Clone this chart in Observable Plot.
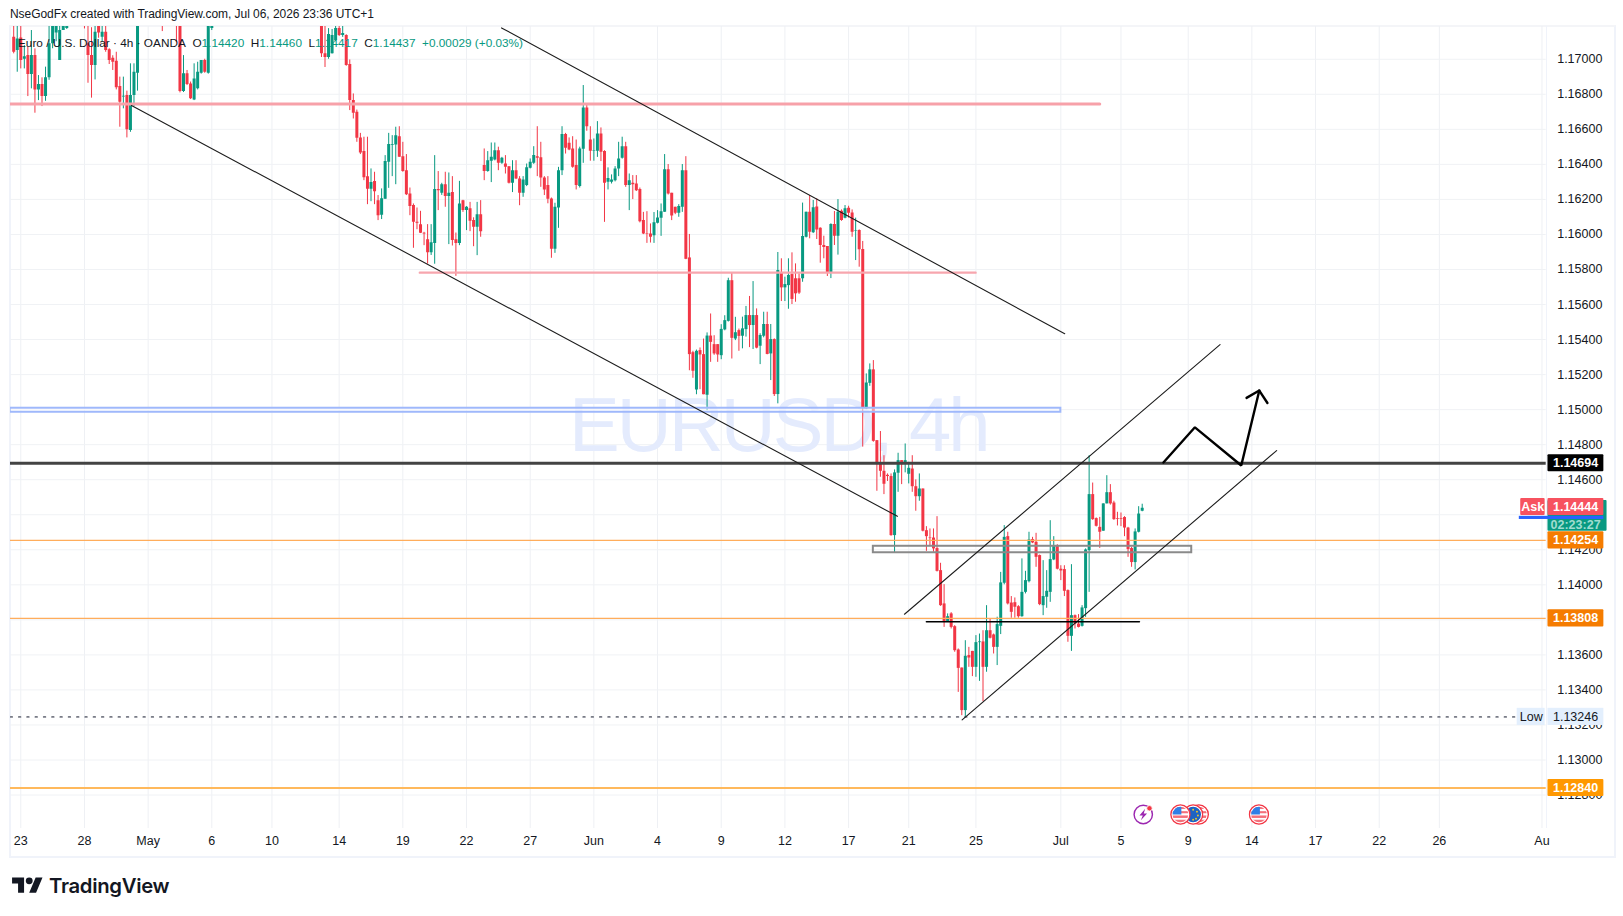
<!DOCTYPE html>
<html><head><meta charset="utf-8">
<script src="https://cdn.jsdelivr.net/npm/d3@7"></script>
<script src="https://cdn.jsdelivr.net/npm/@observablehq/plot@0.6"></script>
<style>
html,body{margin:0;padding:0;background:#fff;overflow:hidden;width:1623px;height:916px;position:relative}
#pane{position:absolute;left:9px;top:25px;width:1603px;height:829px;border:2px solid #f0f3fa;border-top-color:#f4f5f8}
#sep{position:absolute;left:1546px;top:26px;width:1px;height:802px;background:#f0f3fa}
#chart{position:absolute;left:0;top:26px}
#chart svg{display:block;background:transparent;max-width:none}
#head{position:absolute;left:10px;top:7px;font:12px "Liberation Sans",sans-serif;color:#131722;white-space:nowrap;letter-spacing:-.05px}
#legend{position:absolute;left:18px;top:36px;font:11.8px "Liberation Sans",sans-serif;color:#131722;white-space:nowrap}
#legend b{font-weight:400;color:#089981}
#logo{position:absolute;left:12px;top:873px;display:flex;align-items:center;gap:6px;font:600 20.3px Inter,sans-serif;color:#131722;letter-spacing:-.3px}
</style></head><body>
<div id="pane"></div><div id="sep"></div>
<div id="chart"></div>
<div id="head">NseGodFx created with TradingView.com, Jul 06, 2026 23:36 UTC+1</div>
<div id="legend">Euro / U.S. Dollar · 4h · OANDA&nbsp; O<b>1.14420</b>&nbsp; H<b>1.14460</b>&nbsp; L<b>1.14417</b>&nbsp; C<b>1.14437</b>&nbsp; <b>+0.00029 (+0.03%)</b></div>
<div id="logo"><svg width="31" height="24" viewBox="0 0 36 28"><path fill="#131722" d="M14 22H7V11H0V4h14v18ZM28 22h-8l7.5-18h8L28 22Z"/><circle fill="#131722" cx="20" cy="8" r="4"/></svg><span>TradingView</span></div>
<script>
const _ = null;
// All candle values are in points (0.00001) above priceBase. Empty cells are bars above the visible range.
const priceBase = 1.1;
const candleDirs =
 "RGRGRGRGRG"+"GGGGGG...."+"RRRGRGRRRR"+"RGRGGG...."+"..R...RRGR"+"RGGGRGG..."+".........."+".........."+
 ".......RRG"+"GGRGRRRRRR"+"RGRRGGGGGR"+"RRRRRRRRGG"+"RGRGRRGRGR"+"RGRRGGGRGR"+"RGRRGGGGRR"+"RRRGGGRRRR"+
 "GGRRGGRRGG"+"GGGRGRRRRR"+"RGGGGRRRGG"+"RRRGRRGRRR"+"GGGRGRGGRG"+"RGGRGRGRGG"+"RRRGGRGRRR"+"RGRGRGRRGR"+
 "RGGRRRRRRG"+"GRGGRRGRRR"+"RRRRGRRRRG"+"RRGGRGRRGG"+"GRRRRGGGRR"+"RGGGGRRRRG"+"RRGGGRRRGG"+"RRRRRRRGGG";
const bodyTop = [
7126,7116,7122,7015,7021,7021,7021,6856,6856,6894,
7088,7200,7200,7164,7220,7230,_,_,_,_,
7240,7088,7021,7154,7200,7154,7154,7054,7006,6989,
6844,6789,6793,6793,6926,7200,_,_,_,_,
_,_,7240,_,_,_,7240,7200,6917,6917,
6859,6888,6926,6993,6993,7200,7240,_,_,_,
_,_,_,_,_,_,_,_,_,_,
_,_,_,_,_,_,_,_,_,_,
_,_,_,_,_,_,_,7200,7032,7141,
7135,7175,7175,7147,7135,6970,6764,6697,6551,6473,
6330,6296,6302,6193,6204,6416,6513,6513,6564,6558,
6444,6364,6231,6165,6069,6056,6007,5970,5953,6256,
6256,6284,6284,6235,6239,5970,6174,6193,6155,6147,
6079,6113,6113,6393,6421,6440,6478,6478,6435,6402,
6387,6364,6364,6317,6311,6380,6412,6450,6444,6438,
6322,6279,6203,6155,6364,6570,6570,6520,6488,6393,
6488,6722,6722,6539,6478,6574,6574,6473,6319,6311,
6374,6431,6501,6501,6307,6292,6288,6256,6079,6003,
6003,6067,6094,6130,6370,6370,6235,6155,6159,6364,
6364,5866,5325,5333,5337,5314,5420,5420,5371,5371,
5458,5508,5736,5736,5439,5451,5461,5537,5537,5537,
5537,5423,5486,5486,5400,5400,5794,5783,5714,5766,
5771,5747,5747,5988,6127,6127,6152,6156,6036,5937,
5931,6057,6057,6127,6133,6146,6150,6123,6022,6022,
5914,5152,5227,5227,4823,4694,4648,4625,4618,4639,
4709,4709,4709,4665,4661,4560,4547,4547,4309,4267,
4267,4207,4081,3891,3818,3834,3761,3628,3525,3592,
3596,3620,3670,3674,3674,3738,3738,3714,3773,4011,
4271,4275,3896,3898,3875,3957,4024,4256,4258,4243,
4167,3933,3963,4144,4218,4222,4089,4087,3967,3824,
3824,3776,3868,4199,4515,4515,4378,4328,4462,4526,
4526,4467,4378,4378,4384,4324,4207,4302,4404,4437];
const bodyBottom = [
7040,7050,6993,7000,6913,6913,6825,6825,6787,6787,
6894,7088,7150,6993,7164,7175,_,_,_,_,
7200,7021,6964,6964,7150,7126,7050,6993,6983,6837,
6755,6785,6597,6593,6793,6920,_,_,_,_,
_,_,7200,_,_,_,7200,6816,6816,6856,
6774,6768,6831,6920,6926,6920,7175,_,_,_,
_,_,_,_,_,_,_,_,_,_,
_,_,_,_,_,_,_,_,_,_,
_,_,_,_,_,_,_,7032,7010,7010,
7032,7107,7135,7135,6964,6764,6692,6549,6465,6324,
6258,6258,6244,6107,6109,6201,6412,6509,6511,6440,
6359,6227,6159,6069,6064,6007,6003,5896,5896,5949,
6250,6235,6216,6216,5965,5949,5949,6136,6136,6075,
6041,6041,6016,6359,6360,6418,6425,6406,6406,6383,
6292,6292,6317,6235,6235,6279,6378,6406,6435,6322,
6254,6201,5915,5915,6151,6364,6492,6482,6383,6279,
6273,6486,6615,6475,6475,6475,6469,6292,6298,6298,
6307,6374,6435,6279,6279,6284,6250,6073,6003,5999,
5984,5993,6064,6092,6126,6231,6105,6121,6121,6155,
5858,5314,5219,5112,5312,5085,5082,5384,5318,5312,
5308,5455,5504,5407,5403,5418,5419,5457,5480,5480,
5351,5362,5419,5315,5318,5086,5086,5695,5695,5708,
5629,5661,5665,5747,5984,6013,6009,6026,5937,5925,
5783,5783,5990,5990,6080,6093,6121,6013,6019,5912,
5012,5004,5150,4819,4686,4648,4574,4618,4281,4281,
4637,4686,4697,4631,4560,4503,4503,4306,4275,4264,
4205,4077,3881,3790,3790,3757,3624,3523,3282,3282,
3582,3529,3529,3670,3529,3529,3695,3643,3643,3763,
4009,3891,3843,3872,3818,3818,3957,4018,4239,4157,
3887,3881,3929,3957,4142,4089,4079,3963,3706,3706,
3776,3757,3763,3864,4195,4372,4334,4300,4306,4462,
4462,4372,4374,4374,4324,4201,4127,4127,4300,4420];
const highs = [
7190,7190,7190,7078,7069,7164,7059,6907,6894,6955,
7200,7220,7230,7220,7240,7240,_,_,_,_,
7250,7220,7180,7190,7230,7200,7190,7060,7020,7040,
6898,6898,6818,6974,6974,7230,_,_,_,_,
_,_,7250,_,_,_,7250,7240,7021,6936,
6870,6974,6983,6993,7000,7240,7250,_,_,_,
_,_,_,_,_,_,_,_,_,_,
_,_,_,_,_,_,_,_,_,_,
_,_,_,_,_,_,_,7230,7200,7175,
7170,7200,7190,7190,7140,6996,6802,6710,6577,6555,
6555,6374,6355,6222,6260,6450,6577,6564,6612,6615,
6526,6456,6265,6174,6151,6132,6012,6056,6056,6450,
6359,6292,6355,6351,6330,6008,6303,6195,6159,6183,
6095,6183,6193,6488,6473,6522,6522,6498,6440,6450,
6387,6421,6421,6330,6330,6402,6431,6501,6615,6526,
6330,6330,6208,6178,6383,6615,6577,6551,6558,6539,
6498,6850,6741,6615,6545,6644,6608,6478,6380,6340,
6387,6526,6555,6526,6345,6336,6336,6265,6126,6130,
6060,6125,6136,6174,6456,6399,6235,6155,6170,6399,
6444,6000,5333,5340,5352,5403,5438,5546,5422,5371,
5485,5536,5750,5780,5527,5460,5528,5589,5646,5731,
5575,5433,5556,5556,5486,5404,5897,5861,5756,5861,
5895,5832,5775,6179,6127,6222,6194,6203,6038,5990,
5931,6061,6131,6199,6140,6165,6161,6140,6093,6026,
5960,5204,5261,5280,4823,4875,4737,4633,4633,4656,
4751,4709,4804,4699,4737,4599,4633,4547,4332,4319,
4319,4389,4123,4001,3834,3841,3767,3634,3525,3681,
3643,3620,3710,3719,3738,3881,3805,3719,3815,4071,
4338,4300,3933,3925,3881,4148,4077,4300,4271,4294,
4170,4138,4081,4366,4275,4229,4109,4109,3971,4115,
3828,3830,3881,4205,4737,4581,4382,4385,4462,4623,
4572,4477,4414,4410,4389,4328,4214,4319,4446,4460];
const lows = [
7031,6926,6945,6945,6787,6831,6692,6764,6730,6760,
6880,7060,7100,6993,7164,7170,_,_,_,_,
7173,6863,6778,6882,7120,7100,7040,6970,6936,6825,
6612,6717,6551,6583,6730,6818,_,_,_,_,
_,_,7158,_,_,_,7095,6808,6810,6850,
6770,6764,6825,6915,6920,6915,7164,_,_,_,
_,_,_,_,_,_,_,_,_,_,
_,_,_,_,_,_,_,_,_,_,
_,_,_,_,_,_,_,7010,6953,7000,
7030,7100,7130,7125,6960,6707,6659,6526,6456,6307,
6170,6187,6170,6079,6085,6201,6263,6330,6284,6440,
6355,6222,6107,5921,6027,6005,5936,5831,5880,5830,
6136,6223,6155,5942,5934,5761,5936,6126,6022,6016,
5930,5879,5984,6307,6355,6296,6420,6364,6400,6345,
6288,6239,6313,6164,6212,6273,6374,6400,6330,6269,
6222,6175,5864,5892,6035,6336,6459,6478,6378,6254,
6265,6406,6589,6418,6418,6440,6416,6069,6254,6288,
6300,6330,6430,6269,6136,6199,6245,6066,5999,5949,
5951,5949,6060,5989,6126,6225,6079,6113,6098,6126,
5856,5222,5179,5085,5114,5085,4994,5270,5310,5270,
5285,5450,5500,5289,5394,5333,5347,5414,5354,5343,
5347,5257,5410,5313,5166,5075,5033,5617,5617,5573,
5600,5613,5657,5727,5980,5975,6005,5971,5836,5861,
5760,5748,5937,5882,6075,6089,6093,5984,5851,5813,
4786,5000,5133,4814,4534,4614,4515,4590,4277,4180,
4528,4572,4639,4576,4528,4420,4477,4302,4191,4220,
4186,4073,3877,3757,3786,3748,3615,3386,3253,3244,
3529,3476,3472,3449,3333,3501,3691,3605,3539,3716,
4000,3885,3809,3809,3809,3815,3948,4011,4235,4100,
3881,3824,3866,3900,4138,4085,4024,3933,3672,3620,
3748,3754,3759,3814,3957,4368,4330,4208,4306,4462,
4455,4368,4336,4332,4275,4157,4100,4085,4296,4417];

const tickLabels = ["23","28","May","6","10","14","19","22","27","Jun","4","9","12","17","21","25","Jul","5","9","14","17","22","26","Au"];
const tickBars = [2,20,38,56,73,92,110,128,146,164,182,200,218,236,253,272,296,313,332,350,368,386,403,432];
const priceTicks = [1.128,1.13,1.132,1.134,1.136,1.138,1.14,1.142,1.144,1.146,1.148,1.15,1.152,1.154,1.156,1.158,1.16,1.162,1.164,1.166,1.168,1.17];
// 1.138 and 1.144 sit fully behind price tags in the reference, so only their grid lines show
const priceLabelTicks = [1.128,1.13,1.132,1.134,1.136,1.14,1.142,1.146,1.148,1.15,1.152,1.154,1.156,1.158,1.16,1.162,1.164,1.166,1.168,1.17];

// drawings, in bars and prices
const lowerFall = [[33.3,1.16736],[249.8,1.14391]];
const upperFall = [[137.9,1.17179],[297.1,1.15433]];
const channelUpper = [[251.8,1.13832],[341,1.15371]];
const channelLower = [[268.1,1.13229],[357,1.14766]];
const zigzag = [[325,1.14698],[333.9,1.14899],[347,1.14681],[352.1,1.15109]];
const arrowHead = [[348.5,1.15067],[352.1,1.15109],[354.4,1.15038]];
const blackRest = [[258,1.13789],[318.2,1.13789]];
const pinkUpper = [[-1,1.16745],[307,1.16745]];
const pinkLower = [[114.8,1.15782],[271.9,1.15782]];
const blueBox = {x1:-1,x2:296,y1:1.14985,y2:1.15008};
const greyBox = {x1:243,x2:333,y1:1.14183,y2:1.1422};
const levelBlack = 1.14694, levelA = 1.14254, levelB = 1.13808, levelC = 1.1284, levelLow = 1.13246;

const tagValues = [
 {p:1.14694,label:"1.14694",fill:"#000000"},
 {p:1.14254,label:"1.14254",fill:"#f57c00"},
 {p:1.13808,label:"1.13808",fill:"#f57c00"},
 {p:1.1284,label:"1.12840",fill:"#ff9800"}];
const iconRows = [
 {bar:319.3,kind:"bolt"},{bar:335,kind:"us"},{bar:333.4,kind:"eu"},{bar:329.8,kind:"us"},{bar:352,kind:"us"}];

const svgUri = s => "data:image/svg+xml," + encodeURIComponent(s);
const usFlag = `<svg xmlns="http://www.w3.org/2000/svg" viewBox="0 0 22 22"><defs><clipPath id="c"><circle cx="11" cy="11" r="8.2"/></clipPath></defs><circle cx="11" cy="11" r="10" fill="#fff" stroke="#f23645" stroke-width="1.4"/><g clip-path="url(#c)"><rect x="2" y="2" width="18" height="18" fill="#fff"/><rect x="2" y="3" width="18" height="2.2" fill="#f4707a"/><rect x="2" y="7.5" width="18" height="2.2" fill="#f4707a"/><rect x="2" y="12" width="18" height="2.6" fill="#f4707a"/><rect x="2" y="16.5" width="18" height="4" fill="#f4707a"/><rect x="2" y="2" width="10" height="9" fill="#2f7fe6"/></g></svg>`;
const euFlag = `<svg xmlns="http://www.w3.org/2000/svg" viewBox="0 0 22 22"><circle cx="11" cy="11" r="10" fill="#fff" stroke="#f23645" stroke-width="1.4"/><circle cx="11" cy="11" r="8.2" fill="#1e63c4"/><g fill="#f3c623"><circle cx="11" cy="6" r="1"/><circle cx="15" cy="8" r="1"/><circle cx="16" cy="12" r="1"/><circle cx="14" cy="15.5" r="1"/><circle cx="11" cy="16.5" r="1"/></g></svg>`;
const bolt = `<svg xmlns="http://www.w3.org/2000/svg" viewBox="0 0 22 22"><circle cx="11" cy="11" r="9.6" fill="#fff" stroke="#9c27b0" stroke-width="1.5"/><path d="M13 5 L7 12 H10.5 L8.5 17 L15 10 H11.5 Z" fill="#9c27b0"/><circle cx="17.5" cy="4.5" r="2.8" fill="#f23645" stroke="#fff" stroke-width=".8"/></svg>`;
const iconSrc = {us:svgUri(usFlag),eu:svgUri(euFlag),bolt:svgUri(bolt)};

const candles = [];
for (let i = 0; i < bodyTop.length; i++) {
  if (highs[i] === _) continue;
  const up = candleDirs[i] === "G", price = v => priceBase + v / 1e5;
  candles.push({bar:i,top:price(bodyTop[i]),bottom:price(bodyBottom[i]),high:price(highs[i]),low:price(lows[i]),color:up?"#089981":"#f23645"});
}
const labelByBar = new Map(tickBars.map((b,i)=>[b,tickLabels[i]]));
const X0 = -0.905, X1 = 433.2;
const BLACK = "#131722";
const pts = a => a.map(([x,y])=>({x,y}));
const seg = (a,o) => Plot.line(pts(a),{x:"x",y:"y",clip:true,...o});
const tagL = 433.7, tagR = 449.5, tagMid = 441.5;
const half = 0.00049;

const plot = Plot.plot({
  width:1623,height:829,marginLeft:10,marginRight:77.3,marginTop:0,marginBottom:27,
  style:{background:"transparent",fontFamily:'"Liberation Sans",sans-serif',color:BLACK},
  x:{type:"linear",domain:[X0,X1]},
  y:{type:"linear",domain:[1.12609,1.17187]},
  marks:[
    Plot.gridX(tickBars,{stroke:"#eef0f4",strokeOpacity:1}),
    Plot.gridY(priceTicks,{stroke:"#f0f2f5",strokeOpacity:1}),
    Plot.text(["EURUSD, 4h"],{frameAnchor:"middle",dy:-1,fontSize:76,fill:"#e4ebfd",text:d=>d,fontFamily:'"Liberation Sans",sans-serif',className:"watermark"}),
    Plot.axisY({anchor:"right",ticks:priceLabelTicks,tickSize:0,tickPadding:11,tickFormat:d=>d.toFixed(5),label:null,fontSize:12.5}),
    Plot.axisX({ticks:tickBars,tickSize:0,tickPadding:8,tickFormat:d=>labelByBar.get(d),label:null,fontSize:12.5}),
    Plot.ruleX(candles,{x:"bar",y1:"low",y2:"high",stroke:"color",strokeWidth:1,clip:true}),
    Plot.ruleX(candles,{x:"bar",y1:"bottom",y2:"top",stroke:"color",strokeWidth:3,clip:true}),
    seg(pinkUpper,{stroke:"#f7a1a9",strokeWidth:3}),
    seg(pinkLower,{stroke:"#f7a6ae",strokeWidth:2.4}),
    Plot.rect([blueBox],{x1:"x1",x2:"x2",y1:"y1",y2:"y2",fill:"#ffffff",fillOpacity:.5,stroke:"#9fb8fb",strokeWidth:2,clip:true}),
    Plot.rect([greyBox],{x1:"x1",x2:"x2",y1:"y1",y2:"y2",fill:"none",stroke:"#8a8a8a",strokeWidth:2,clip:true}),
    Plot.ruleY([levelA],{stroke:"#ffad5c",strokeWidth:1.2}),
    Plot.ruleY([levelB],{stroke:"#ffad5c",strokeWidth:1.2}),
    Plot.ruleY([levelC],{stroke:"#ffb95c",strokeWidth:2}),
    Plot.ruleY([levelBlack],{stroke:"#434343",strokeWidth:3.2}),
    seg([[X0,levelLow],[424.8,levelLow]],{stroke:"#787b86",strokeWidth:1.7,strokeDasharray:"1.7,6.6"}),
    seg(lowerFall,{stroke:"#1c1c1c",strokeWidth:1.1}),
    seg(upperFall,{stroke:"#1c1c1c",strokeWidth:1.1}),
    seg(channelUpper,{stroke:"#1c1c1c",strokeWidth:1.1}),
    seg(channelLower,{stroke:"#1c1c1c",strokeWidth:1.1}),
    seg(blackRest,{stroke:"#000",strokeWidth:1.6}),
    seg(zigzag,{stroke:"#000",strokeWidth:2.4,strokeLinejoin:"miter"}),
    seg(arrowHead,{stroke:"#000",strokeWidth:2.4,strokeLinejoin:"miter"}),
    // right-hand tags
    Plot.rect([0],{x1:tagL,x2:tagR+.9,y1:1.14481,y2:1.14306,fill:"#089981",rx:1}),
    Plot.text(["02:23:27"],{x:tagMid,y:1.1434,text:d=>d,fill:"#9fdccf",fontSize:12.5,fontWeight:600}),
    Plot.rect([0],{x1:425.6,x2:tagR,y1:1.14391,y2:1.14373,fill:"#2962ff"}),
    Plot.rect([0],{x1:426,x2:432.9,y1:1.14444+half,y2:1.14444-half,fill:"#f7525f",rx:1}),
    Plot.rect([0],{x1:tagL,x2:tagR,y1:1.14444+half,y2:1.14444-half,fill:"#f7525f",rx:1}),
    Plot.text(["Ask"],{x:429.4,y:1.14444,text:d=>d,fill:"#fff",fontSize:12.5,fontWeight:600}),
    Plot.text(["1.14444"],{x:tagMid,y:1.14444,text:d=>d,fill:"#fff",fontSize:12.5,fontWeight:600}),
    Plot.rect(tagValues,{x1:tagL,x2:tagR,y1:d=>d.p+half,y2:d=>d.p-half,fill:"fill",rx:1}),
    Plot.text(tagValues,{x:tagMid,y:"p",text:"label",fill:"#fff",fontSize:12.5,fontWeight:600}),
    Plot.rect([0],{x1:425,x2:432.9,y1:levelLow+half,y2:levelLow-half,fill:"#e3effd"}),
    Plot.rect([0],{x1:tagL,x2:tagR,y1:levelLow+half,y2:levelLow-half,fill:"#e3effd"}),
    Plot.text(["Low"],{x:429,y:levelLow,text:d=>d,fill:BLACK,fontSize:12.5}),
    Plot.text(["1.13246"],{x:tagMid,y:levelLow,text:d=>d,fill:BLACK,fontSize:12.5}),
    Plot.image(iconRows,{x:"bar",frameAnchor:"bottom",dy:-14,width:21,height:21,src:d=>iconSrc[d.kind]})
  ]
});
plot.querySelectorAll(".watermark text, text.watermark").forEach(t=>{t.style.letterSpacing="-2.9px";});
document.getElementById("chart").appendChild(plot);
</script></body></html>
